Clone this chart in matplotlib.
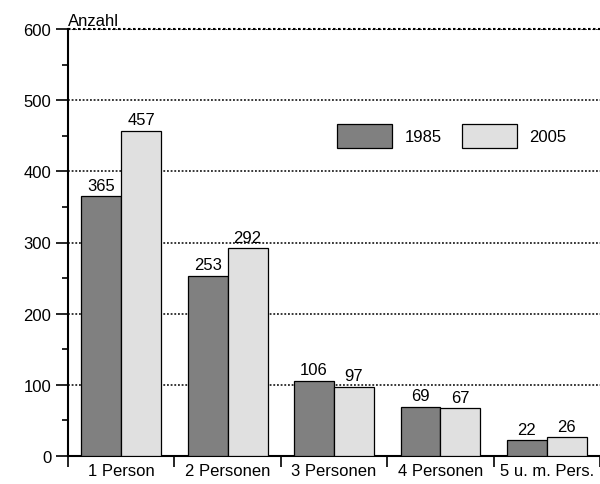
import matplotlib
matplotlib.use("Agg")
import matplotlib.pyplot as plt
import numpy as np
from matplotlib.ticker import MultipleLocator

plt.rcParams['font.family'] = ['Liberation Sans', 'DejaVu Sans']

categories = ["1 Person", "2 Personen", "3 Personen", "4 Personen", "5 u. m. Pers."]
values_1985 = [365, 253, 106, 69, 22]
values_2005 = [457, 292, 97, 67, 26]
series_labels = ["1985", "2005"]
colors = ["#808080", "#e0e0e0"]

FS = 12

fig = plt.figure(figsize=(6, 4.85), dpi=100)
ax = fig.add_axes([68/600, 28/485, 1 - 68/600, (457-30)/485])

x = np.arange(len(categories))
w = 0.375
b1 = ax.bar(x - w/2, values_1985, w, color=colors[0], edgecolor="black", linewidth=0.9, label=series_labels[0], zorder=3)
b2 = ax.bar(x + w/2, values_2005, w, color=colors[1], edgecolor="black", linewidth=0.9, label=series_labels[1], zorder=3)

for bars, vals in ((b1, values_1985), (b2, values_2005)):
    for r, v in zip(bars, vals):
        ax.annotate(str(v), (r.get_x() + r.get_width()/2, v), xytext=(0, 2.5),
                    textcoords="offset points", ha="center", va="bottom", fontsize=FS)

ax.set_ylim(0, 600)
ax.set_xlim(-0.5, -0.5 + 532/107)
ax.yaxis.set_major_locator(MultipleLocator(100))
ax.yaxis.set_minor_locator(MultipleLocator(50))
ax.set_xticks(np.arange(len(categories) + 1) - 0.5, minor=False)
ax.set_xticklabels([])
ax.set_xticks(x, minor=True)
ax.set_xticklabels(categories, minor=True, fontsize=FS)
ax.tick_params(axis="x", which="minor", length=0, pad=5)
ax.tick_params(axis="x", which="major", length=8, width=1.2, direction="out")
ax.tick_params(axis="y", which="major", length=9, width=1.2, direction="out", labelsize=FS, pad=3)
ax.tick_params(axis="y", which="minor", length=4, width=1.2, direction="out")

for s in ("top", "right"):
    ax.spines[s].set_visible(False)
for s in ("left", "bottom"):
    ax.spines[s].set_linewidth(1.5)

ax.grid(axis="y", which="major", linestyle=(0, (1.2, 1.2)), color="black", linewidth=1.1, zorder=0)
ax.set_axisbelow(True)
ax.axhline(600, color="black", linestyle=(0, (1.2, 1.2)), linewidth=1.5, clip_on=False)

ax.text(0.0, 1.003, "Anzahl", transform=ax.transAxes, ha="left", va="bottom", fontsize=FS)

ax.legend(loc="upper left", bbox_to_anchor=((337-68)/532, (457-125)/427), frameon=False,
          ncol=2, fontsize=FS, handlelength=3.3, handleheight=1.85, handletextpad=0.75,
          columnspacing=1.2, borderpad=0, borderaxespad=0)

fig.savefig("out.png", dpi=100)
